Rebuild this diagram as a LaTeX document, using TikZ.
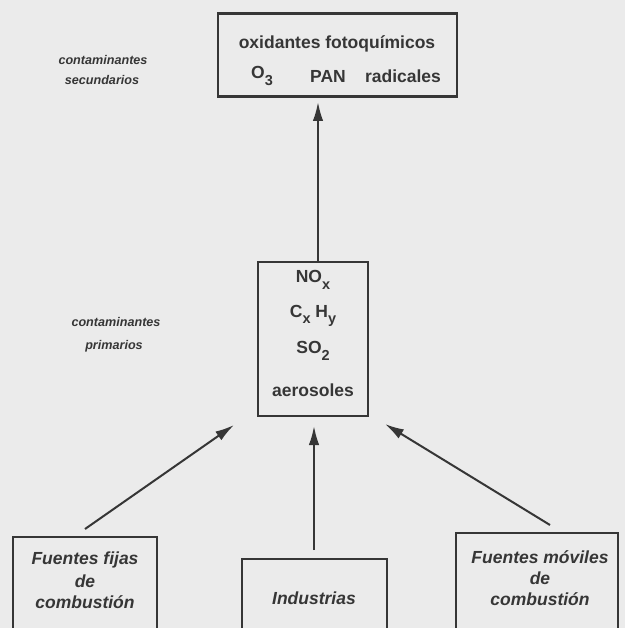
\documentclass[tikz,border=0pt]{standalone}
\usepackage{fontspec}
\setmainfont{Liberation Sans}
\usetikzlibrary{arrows.meta}
\definecolor{ink}{HTML}{363636}
\definecolor{paper}{HTML}{EBEBEB}
% lowered subscript in the running font
\newcommand\lowsub[1]{\raisebox{-0.38em}{\fontsize{14.5}{14.5}\selectfont #1}}
\begin{document}
\begin{tikzpicture}[x=1pt,y=-1pt,
  box/.style={draw=ink, line width=2.3pt, inner sep=0pt},
  txt/.style={text=ink, inner sep=0pt, font=\bfseries\fontsize{17.5}{20}\selectfont},
  itl/.style={text=ink, inner sep=0pt, font=\bfseries\itshape\fontsize{17.5}{20}\selectfont},
  note/.style={text=ink, inner sep=0pt, font=\bfseries\itshape\fontsize{12.6}{14}\selectfont},
  arr/.style={draw=ink, line width=2pt, -{Latex[length=19pt,width=10.5pt]}}]
\clip (0,0) rectangle (625,628);
\fill[paper] (0,0) rectangle (625,628);

% boxes
\node[box, minimum width=239pt, minimum height=83pt] (ox) at (337.5,55) {};
\node[box, minimum width=110pt, minimum height=154pt] (prim) at (313,339) {};
\node[box, minimum width=144pt, minimum height=130pt] (fijas) at (85,602) {};
\node[box, minimum width=145pt, minimum height=110pt] (ind) at (314.5,614) {};
\node[box, minimum width=162pt, minimum height=130pt] (moviles) at (537,598) {};

% secondary pollutants
\node[txt] (oxt) at (337,44) {oxidantes fotoquímicos};
\node[txt] (o3) at (262,76) {O\lowsub{3}};
\node[txt] (pan) at (328,76) {PAN};
\node[txt] (rad) at (403,76) {radicales};
\node[note] (sec1) at (103,60) {contaminantes};
\node[note] (sec2) at (102,80) {secundarios};

% primary pollutants
\node[txt] (nox) at (313,280) {NO\lowsub{x}};
\node[txt] (cxhy) at (313,316) {C\lowsub{x} H\lowsub{y}};
\node[txt] (so2) at (313,351) {SO\lowsub{2}};
\node[txt] (aer) at (313,390) {aerosoles};
\node[note] (pr1) at (116,322) {contaminantes};
\node[note] (pr2) at (114,346) {primarios};

% sources
\node[itl] (f1) at (85,560) {Fuentes fijas};
\node[itl] (f2) at (85,581) {de};
\node[itl] (f3) at (85,602) {combustión};
\node[itl] (i1) at (314,598) {Industrias};
\node[itl] (m1) at (540,557) {Fuentes móviles};
\node[itl] (m2) at (540,578) {de};
\node[itl] (m3) at (540,599) {combustión};

% connectors
\coordinate (upend) at (318,102);
\draw[arr] (prim.north -| upend) -- (upend);
\coordinate (l0) at (85,529);
\coordinate (l1) at (234,425);
\draw[arr] (l0) -- (l1);
\coordinate (c0) at (314,550);
\coordinate (c1) at (314,426);
\draw[arr] (c0) -- (c1);
\coordinate (r0) at (550,525);
\coordinate (r1) at (385,424);
\draw[arr] (r0) -- (r1);
\end{tikzpicture}
\end{document}
